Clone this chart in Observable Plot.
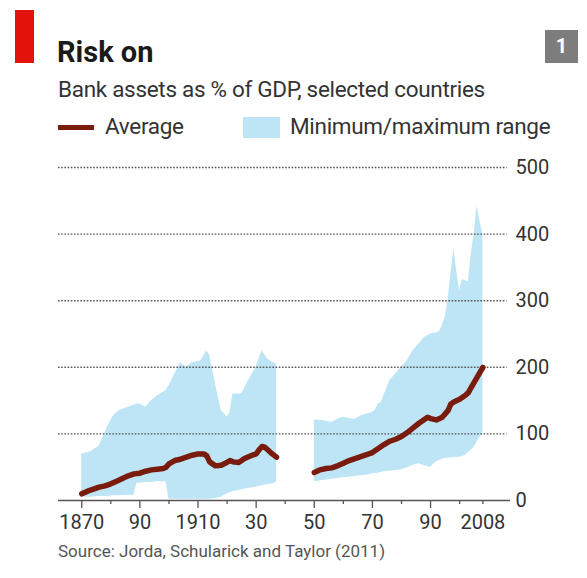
<!DOCTYPE html>
<html>
<head>
<meta charset="utf-8">
<script src="https://cdn.jsdelivr.net/npm/d3@7"></script>
<script src="https://cdn.jsdelivr.net/npm/@observablehq/plot@0.6"></script>
<style>
  html, body { margin: 0; padding: 0; background: #fff; }
  #page { position: relative; width: 587px; height: 578px; overflow: hidden; font-family: Roboto, "Open Sans", sans-serif; }
  .abs { position: absolute; white-space: nowrap; }
  #chart { position: absolute; left: 0; top: 150px; }
</style>
</head>
<body>
<div id="page">
  <div class="abs" style="left:15px;top:10px;width:19px;height:53px;background:#e3120b;"></div>
  <div class="abs" style="left:57px;top:38px;font-size:29px;line-height:29px;font-weight:700;color:#1a1a1a;">Risk on</div>
  <div class="abs" style="left:545px;top:30px;width:33px;height:33px;background:#7d7d7d;color:#fff;font-weight:700;font-size:20px;line-height:33px;text-align:center;">1</div>
  <div class="abs" style="left:58px;top:78px;font-size:22.5px;line-height:22.5px;letter-spacing:-0.3px;color:#333;">Bank assets as % of GDP, selected countries</div>
  <div class="abs" style="left:58px;top:124.5px;width:36px;height:5px;background:#7a1c0d;"></div>
  <div class="abs" style="left:105px;top:115px;font-size:22.5px;line-height:22.5px;letter-spacing:-0.3px;color:#333;">Average</div>
  <div class="abs" style="left:243px;top:117px;width:37px;height:21px;background:#bde5f5;"></div>
  <div class="abs" style="left:290px;top:115px;font-size:22.5px;line-height:22.5px;letter-spacing:-0.3px;color:#333;">Minimum/maximum range</div>
  <div id="chart"></div>
  <div class="abs" style="left:58px;top:543px;font-size:17px;line-height:17px;color:#555;">Source: Jorda, Schularick and Taylor (2011)</div>
</div>
<script>
// ---- Data ----
// Period 1: 1870-1937
const years1 = [1870,1873,1876,1879,1881,1883,1886,1888,1889,1890,1892,1894,1896,1899,1900,1902,1904,1906,1908,1911,1913,1914,1916,1918,1920,1921,1922,1925,1927,1930,1932,1934,1936,1937];
const max1   = [70,73,82,112,128,135,140,143,145,145,140,150,157,165,172,190,207,200,207,210,225,218,175,135,125,132,160,160,177,200,225,212,207,205];
const min1   = [5,5,6,6,7,7,8,8,26,26,27,27,28,28,2,2,2,2,2,2,2,2,3,5,10,12,13,16,18,20,22,24,25,28];

const avgYears1 = [1870,1872,1874,1876,1878,1880,1882,1884,1886,1888,1890,1892,1894,1896,1898,1899,1900,1902,1904,1906,1908,1910,1912,1913,1914,1916,1918,1919,1921,1922,1924,1926,1928,1930,1931,1932,1933,1935,1937];
const avg1      = [10,14,17,20,22,25,29,33,37,40,41,44,46,47,48,50,55,60,62,65,68,70,70,67,58,52,53,55,60,58,57,63,67,70,76,81,80,72,65];

// Period 2: 1950-2008
const years2 = [1950,1953,1956,1958,1960,1962,1964,1966,1968,1970,1971,1972,1973,1974,1976,1978,1980,1982,1984,1986,1988,1990,1992,1993,1994,1995,1996,1997,1998,1999,2000,2001,2002,2003,2004,2005,2006,2007,2008];
const max2   = [121,120,117,122,125,123,122,127,130,132,135,145,147,158,180,190,200,210,225,235,245,250,252,253,262,275,300,340,378,345,315,332,330,328,370,400,442,420,400];
const min2   = [28,30,32,33,34,35,36,37,38,40,41,41,42,43,44,45,46,49,53,55,52,50,58,60,62,63,64,64,65,65,65,66,68,72,76,80,88,95,100];

const avgYears2 = [1950,1952,1954,1956,1958,1960,1962,1964,1966,1968,1970,1972,1974,1976,1978,1980,1982,1984,1986,1988,1989,1990,1992,1994,1996,1997,1998,2000,2002,2003,2004,2006,2008];
const avg2      = [42,46,48,49,52,56,60,63,66,69,72,78,84,89,92,96,102,109,116,122,125,123,121,125,135,145,148,152,158,162,170,185,200];

// Axis ticks and labels
const yTicks = [0,100,200,300,400,500];
const gridVals = [100,200,300,400,500];
const majorTicks = [1870,1890,1910,1930,1950,1970,1990];
const minorTicks = [1880,1900,1920,1940,1960,1980,2000,2008];
const labelYears = [1870,1890,1910,1930,1950,1970,1990,2008];
const labelText  = ["1870","90","1910","30","50","70","90","2008"];

// ---- Build tables ----
const area1 = years1.map((x,i) => ({x, lo: min1[i], hi: max1[i]}));
const area2 = years2.map((x,i) => ({x, lo: min2[i], hi: max2[i]}));
const line1 = avgYears1.map((x,i) => ({x, y: avg1[i]}));
const line2 = avgYears2.map((x,i) => ({x, y: avg2[i]}));
const labels = labelYears.map((x,i) => ({x, t: labelText[i]}));

const BLUE = "#bde5f5";
const RED = "#7a1c0d";
const X0 = 1862, X1 = 2017.5;

const chart = Plot.plot({
  width: 587,
  height: 400,
  marginLeft: 58,
  marginRight: 77,
  marginTop: 17,
  marginBottom: 50,
  style: {fontFamily: "Roboto, 'Open Sans', sans-serif", background: "transparent", color: "#333"},
  x: {domain: [X0, X1], axis: null},
  y: {domain: [0, 500], axis: null},
  marks: [
    Plot.areaY(area1, {x: "x", y1: "lo", y2: "hi", fill: BLUE}),
    Plot.areaY(area2, {x: "x", y1: "lo", y2: "hi", fill: BLUE}),
    Plot.ruleY(gridVals, {x1: X0, x2: 2016.3, stroke: "#555", strokeWidth: 1.4, strokeDasharray: "1.6,1.6"}),
    Plot.ruleY([0], {x1: X0, x2: X1, stroke: "#555", strokeWidth: 1.3}),
    Plot.axisX({ticks: majorTicks, tickSize: 8, tickFormat: () => "", label: null, stroke: "#555", strokeWidth: 1.3}),
    Plot.axisX({ticks: minorTicks, tickSize: 4, tickFormat: () => "", label: null, stroke: "#555", strokeWidth: 1.3}),
    Plot.text(labels, {x: "x", y: () => 0, text: "t", dy: 22, fontSize: 20, fill: "#333", lineAnchor: "middle"}),
    Plot.axisY({anchor: "right", ticks: yTicks, tickSize: 0, tickPadding: 5, textAnchor: "start", fontSize: 20, fill: "#333", label: null, tickFormat: d => String(d)}),
    Plot.line(line1, {x: "x", y: "y", stroke: RED, strokeWidth: 5.5, strokeLinejoin: "round", strokeLinecap: "round"}),
    Plot.line(line2, {x: "x", y: "y", stroke: RED, strokeWidth: 5.5, strokeLinejoin: "round", strokeLinecap: "round"})
  ]
});
document.getElementById("chart").appendChild(chart);
</script>
</body>
</html>
